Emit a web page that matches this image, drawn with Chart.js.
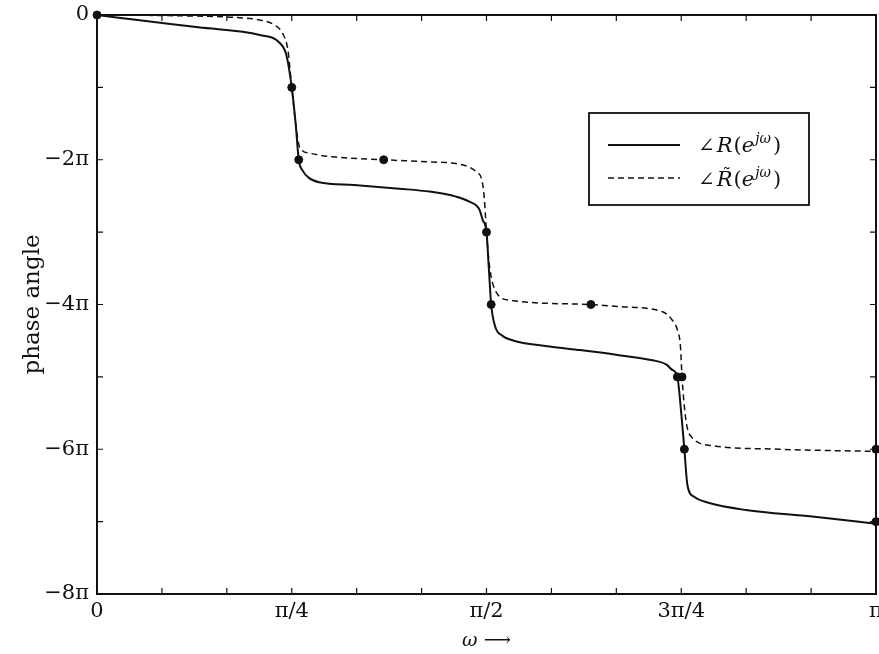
<!DOCTYPE html>
<html>
<head>
<meta charset="utf-8">
<script src="https://cdn.jsdelivr.net/npm/chart.js@4.4.1/dist/chart.umd.min.js"></script>
<style>
  html, body { margin: 0; padding: 0; background: #fff; overflow: hidden; }
  #wrap { width: 879px; height: 654px; }
</style>
</head>
<body>
<div id="wrap"><canvas id="phaseChart"></canvas></div>
<script>
// omega and phase are both in units of pi
const omegaR = [0, 0.06, 0.13, 0.209, 0.235, 0.243, 0.25, 0.255, 0.259, 0.264, 0.272, 0.285, 0.33, 0.388, 0.427, 0.461, 0.478, 0.491, 0.495, 0.5, 0.503, 0.506, 0.511, 0.52, 0.535, 0.581, 0.62, 0.67, 0.713, 0.731, 0.738, 0.745, 0.75, 0.754, 0.758, 0.767, 0.785, 0.833, 0.918, 1.0];
const phaseR = [0, -0.08, -0.17, -0.276, -0.39, -0.55, -1.0, -1.5, -2.0, -2.15, -2.25, -2.31, -2.35, -2.40, -2.44, -2.51, -2.58, -2.69, -2.83, -3.0, -3.5, -4.0, -4.3, -4.43, -4.5, -4.58, -4.63, -4.70, -4.77, -4.83, -4.9, -5.0, -5.5, -6.0, -6.5, -6.66, -6.74, -6.84, -6.93, -7.03];

const omegaRt = [0, 0.1, 0.17, 0.209, 0.228, 0.238, 0.245, 0.25, 0.255, 0.26, 0.273, 0.303, 0.368, 0.427, 0.469, 0.487, 0.494, 0.497, 0.5, 0.504, 0.513, 0.53, 0.634, 0.67, 0.726, 0.738, 0.745, 0.749, 0.751, 0.756, 0.764, 0.79, 0.876, 1.0];
const phaseRt = [0, -0.01, -0.03, -0.07, -0.14, -0.25, -0.48, -1.0, -1.5, -1.82, -1.91, -1.96, -2.0, -2.03, -2.07, -2.17, -2.28, -2.51, -3.0, -3.48, -3.84, -3.94, -4.0, -4.03, -4.1, -4.21, -4.35, -4.58, -5.0, -5.6, -5.84, -5.95, -6.0, -6.03];

const markOmega = [0, 0.25, 0.259, 0.368, 0.5, 0.506, 0.634, 0.745, 0.751, 0.754, 1.0, 1.0];
const markPhase = [0, -1, -2, -2, -3, -4, -4, -5, -5, -6, -6, -7];

const xTickVals = [0, 1/12, 2/12, 0.25, 4/12, 5/12, 0.5, 7/12, 8/12, 0.75, 10/12, 11/12, 1];
const xTickLabels = ['0', '', '', 'π/4', '', '', 'π/2', '', '', '3π/4', '', '', 'π'];
const yTickVals = [0, -1, -2, -3, -4, -5, -6, -7, -8];
const yTickLabels = ['0', '', '−2π', '', '−4π', '', '−6π', '', '−8π'];

const ink = '#111';
const serif = '"DejaVu Serif", "Liberation Serif", serif';

const toPts = (xs, ys) => xs.map((x, i) => ({x: x, y: ys[i]}));

// box round the plot, inward ticks on all four sides, and the legend
const framePlugin = {
  id: 'frame',
  afterDraw(chart) {
    const ctx = chart.ctx;
    const a = chart.chartArea;
    const xs = chart.scales.x, ys = chart.scales.y;
    ctx.save();
    ctx.strokeStyle = ink;
    ctx.lineWidth = 2;
    ctx.strokeRect(a.left, a.top, a.right - a.left, a.bottom - a.top);
    ctx.lineWidth = 1.2;
    ctx.beginPath();
    xTickVals.forEach(v => {
      const px = xs.getPixelForValue(v);
      ctx.moveTo(px, a.bottom); ctx.lineTo(px, a.bottom - 6);
      ctx.moveTo(px, a.top); ctx.lineTo(px, a.top + 6);
    });
    yTickVals.forEach(v => {
      const py = ys.getPixelForValue(v);
      ctx.moveTo(a.left, py); ctx.lineTo(a.left + 6, py);
      ctx.moveTo(a.right, py); ctx.lineTo(a.right - 6, py);
    });
    ctx.stroke();

    // legend
    const bx = 589, by = 113, bw = 220, bh = 92;
    ctx.lineWidth = 1.8;
    ctx.strokeRect(bx, by, bw, bh);
    ctx.beginPath();
    ctx.moveTo(608, 145); ctx.lineTo(680, 145);
    ctx.stroke();
    ctx.lineWidth = 1.5;
    ctx.setLineDash([6, 4]);
    ctx.beginPath();
    ctx.moveTo(608, 178); ctx.lineTo(680, 178);
    ctx.stroke();
    ctx.setLineDash([]);

    ctx.fillStyle = ink;
    ctx.textBaseline = 'alphabetic';
    const entry = (x, y, tilde) => {
      ctx.font = '20px ' + serif;
      ctx.fillText('∠', x, y);
      x += ctx.measureText('∠').width + 2;
      ctx.font = 'italic 21px ' + serif;
      const rw = ctx.measureText('R').width;
      ctx.fillText('R', x, y);
      if (tilde) {
        ctx.font = '18px ' + serif;
        ctx.textAlign = 'center';
        ctx.fillText('˜', x + rw / 2 + 2, y - 5);
        ctx.textAlign = 'left';
      }
      x += rw + 1;
      ctx.font = '21px ' + serif;
      ctx.fillText('(', x, y);
      x += ctx.measureText('(').width;
      ctx.font = 'italic 21px ' + serif;
      ctx.fillText('e', x, y);
      x += ctx.measureText('e').width + 1;
      ctx.font = 'italic 14px ' + serif;
      ctx.fillText('jω', x, y - 9);
      x += ctx.measureText('jω').width + 2;
      ctx.font = '21px ' + serif;
      ctx.fillText(')', x, y);
    };
    entry(698, 152, false);
    entry(698, 186, true);
    ctx.restore();
  }
};

new Chart(document.getElementById('phaseChart'), {
  type: 'scatter',
  data: {
    datasets: [
      {
        label: 'R',
        data: toPts(omegaR, phaseR),
        showLine: true,
        borderColor: ink,
        borderWidth: 2,
        pointRadius: 0,
        cubicInterpolationMode: 'monotone'
      },
      {
        label: 'R tilde',
        data: toPts(omegaRt, phaseRt),
        showLine: true,
        borderColor: ink,
        borderWidth: 1.5,
        borderDash: [6, 4],
        pointRadius: 0,
        cubicInterpolationMode: 'monotone'
      },
      {
        label: 'marks',
        data: toPts(markOmega, markPhase),
        showLine: false,
        pointRadius: 4,
        pointBackgroundColor: ink,
        pointBorderColor: ink,
        clip: false
      }
    ]
  },
  options: {
    responsive: true,
    maintainAspectRatio: false,
    animation: false,
    events: [],
    layout: { autoPadding: false, padding: { top: 15, right: 3, bottom: 0, left: 0 } },
    plugins: {
      legend: { display: false },
      tooltip: { enabled: false }
    },
    scales: {
      x: {
        type: 'linear',
        min: 0,
        max: 1,
        afterBuildTicks(scale) { scale.ticks = xTickVals.map(v => ({value: v})); },
        afterFit(scale) { scale.height = 60; scale.paddingLeft = 0; scale.paddingRight = 0; },
        grid: { display: false, drawTicks: false },
        border: { display: false },
        ticks: {
          autoSkip: false,
          maxRotation: 0,
          padding: 5,
          color: ink,
          font: { family: serif, size: 21 },
          callback: (v, i) => xTickLabels[i]
        },
        title: {
          display: true,
          text: 'ω ⟶',
          color: ink,
          font: { family: serif, size: 19, style: 'italic' },
          padding: { top: 0, bottom: 2 }
        }
      },
      y: {
        type: 'linear',
        min: -8,
        max: 0,
        afterBuildTicks(scale) { scale.ticks = yTickVals.map(v => ({value: v})); },
        afterFit(scale) { scale.width = 97; scale.paddingTop = 0; scale.paddingBottom = 0; },
        grid: { display: false, drawTicks: false },
        border: { display: false },
        ticks: {
          autoSkip: false,
          padding: 8,
          color: ink,
          font: { family: serif, size: 21 },
          callback: (v, i) => yTickLabels[i]
        },
        title: {
          display: true,
          text: 'phase angle',
          color: ink,
          font: { family: serif, size: 23 },
          padding: { top: 19, bottom: 0 }
        }
      }
    }
  },
  plugins: [framePlugin]
});
</script>
</body>
</html>
